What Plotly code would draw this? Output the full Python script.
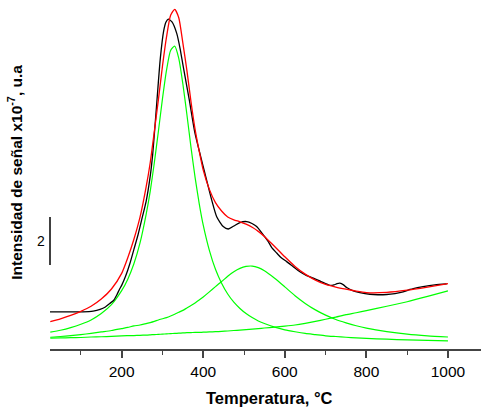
import plotly.graph_objects as go

# ---- data (y in units of 1e-7, arbitrary zero) ----
temp_exp = [24, 60, 105, 130, 147, 160, 171, 180, 188, 195, 200, 210, 220, 230, 240, 250, 260, 270, 276,
            283.6, 289, 294.7, 303, 308.7, 314.3, 323.4, 335, 343, 351, 365.8, 379.7, 400, 420.7, 433,
            449, 461.4, 475, 490, 506.5, 519.5, 531, 544, 559.5, 568.5, 580, 590.6, 604.5, 620, 637,
            653.6, 670, 688.6, 710.7, 720.5, 728, 735, 744, 751.6, 767.8, 784, 808.8, 828, 849.7, 870,
            890, 907, 915, 939, 968, 997]
signal_exp = [1.55, 1.55, 1.55, 1.58, 1.65, 1.75, 1.90, 2.02, 2.25, 2.50, 2.65, 3.05, 3.55, 4.15, 4.75,
              5.45, 6.15, 7.2, 8.1, 9.7, 10.9, 12.1, 13.25, 13.62, 13.74, 13.625, 13.15, 12.54, 11.76,
              10.375, 8.99, 7.60, 6.21, 5.51, 5.10, 5.00, 5.125, 5.27, 5.31, 5.23, 5.10, 4.83, 4.47,
              4.21, 4.00, 3.81, 3.64, 3.44, 3.22, 3.06, 2.95, 2.81, 2.65, 2.67, 2.72, 2.74, 2.67, 2.56,
              2.42, 2.35, 2.28, 2.26, 2.27, 2.31, 2.375, 2.48, 2.52, 2.60, 2.67, 2.71]

temp_fit = [25, 50, 75, 100, 125, 150, 175, 200, 215, 230, 245, 260, 270, 280, 290, 300, 310, 320, 330,
            340, 350, 360, 370, 380, 390, 400, 415, 430, 445, 460, 475, 490, 505, 520, 535, 550, 575,
            600, 625, 650, 675, 700, 725, 750, 775, 800, 850, 900, 950, 1000]
signal_fit = [1.14, 1.26, 1.40, 1.57, 1.78, 2.08, 2.50, 3.15, 3.80, 4.57, 5.49, 6.75, 7.76, 9.05, 10.38,
              11.78, 13.0, 13.9, 14.15, 13.80, 12.75, 11.6, 10.3, 9.15, 8.25, 7.45, 6.65, 6.10, 5.75,
              5.50, 5.38, 5.30, 5.20, 5.07, 4.90, 4.69, 4.27, 3.84, 3.44, 3.12, 2.87, 2.69, 2.58, 2.49,
              2.41, 2.35, 2.36, 2.45, 2.58, 2.72]
peak1 = [0.70, 0.78, 0.89, 1.03, 1.21, 1.48, 1.85, 2.43, 2.91, 3.55, 4.42, 5.61, 6.57, 7.75, 9.06, 10.42,
         11.62, 12.44, 12.62, 12.11, 11.05, 9.76, 8.40, 7.15, 6.07, 5.16, 4.11, 3.32, 2.74, 2.29, 1.95,
         1.69, 1.48, 1.31, 1.17, 1.06, 0.91, 0.80, 0.72, 0.65, 0.60, 0.55, 0.52, 0.49, 0.46, 0.44, 0.41,
         0.38, 0.36, 0.34]
peak2 = [0.49, 0.52, 0.56, 0.60, 0.65, 0.71, 0.77, 0.85, 0.90, 0.96, 1.00, 1.06, 1.10, 1.15, 1.21, 1.26,
         1.31, 1.375, 1.45, 1.53, 1.61, 1.71, 1.81, 1.92, 2.04, 2.17, 2.38, 2.60, 2.81, 3.03, 3.22, 3.36,
         3.44, 3.455, 3.39, 3.26, 2.95, 2.59, 2.22, 1.90, 1.63, 1.41, 1.23, 1.09, 0.97, 0.87, 0.725, 0.62,
         0.55, 0.50]
peak3 = [0.45, 0.46, 0.47, 0.48, 0.50, 0.51, 0.53, 0.55, 0.555, 0.56, 0.57, 0.58, 0.59, 0.60, 0.61, 0.62,
         0.63, 0.64, 0.65, 0.66, 0.67, 0.68, 0.685, 0.69, 0.69, 0.70, 0.71, 0.72, 0.735, 0.75, 0.77, 0.79,
         0.81, 0.83, 0.85, 0.875, 0.91, 0.95, 1.00, 1.07, 1.15, 1.24, 1.33, 1.43, 1.51, 1.60, 1.78, 1.97,
         2.19, 2.42]

x_ticks = [200, 400, 600, 800, 1000]
scale_bar = [3.5, 5.5]  # a bar of 2 units
scale_label = "2"

fig = go.Figure()
for ys in (peak1, peak2, peak3):
    fig.add_trace(go.Scatter(x=temp_fit, y=ys, mode="lines",
                             line=dict(color="#00ff00", width=1.2, shape="spline", smoothing=0.6),
                             hoverinfo="skip"))
fig.add_trace(go.Scatter(x=temp_exp, y=signal_exp, mode="lines",
                         line=dict(color="#000000", width=1.3, shape="spline", smoothing=0.6)))
fig.add_trace(go.Scatter(x=temp_fit, y=signal_fit, mode="lines",
                         line=dict(color="#ff0000", width=1.3, shape="spline", smoothing=0.6)))

fig.update_layout(
    width=481, height=407, margin=dict(l=50, r=0, t=0, b=58),
    paper_bgcolor="white", plot_bgcolor="white", showlegend=False,
    font=dict(family="Liberation Sans, Arial, sans-serif", color="#000"),
    xaxis=dict(range=[24.3, 1081], tickvals=x_ticks, ticks="outside", ticklen=7, tickwidth=1.5,
               tickcolor="#444", showline=True, linecolor="#444", linewidth=2, showgrid=False,
               zeroline=False, tickfont=dict(size=15.5),
               minor=dict(ticks="outside", dtick=100, tick0=0, ticklen=4, tickwidth=1.2, tickcolor="#444")),
    yaxis=dict(range=[0, 14.54], visible=False),
)
fig.add_shape(type="line", xref="paper", yref="y", x0=0, x1=0, y0=scale_bar[0], y1=scale_bar[1],
              line=dict(color="#000", width=1.5))
fig.add_annotation(xref="paper", yref="y", x=0, y=sum(scale_bar) / 2, text=scale_label, showarrow=False,
                   xanchor="right", xshift=-3, font=dict(size=14))
fig.add_annotation(xref="paper", yref="paper", x=0.508, y=-49 / 349, showarrow=False,
                   xanchor="center", yanchor="middle",
                   text="<b>Temperatura, °C</b>", font=dict(size=16.5))
fig.add_annotation(xref="paper", yref="paper", x=-35 / 431, y=0.505, textangle=-90, showarrow=False,
                   xanchor="center", yanchor="middle",
                   text="<b>Intensidad de señal x10<sup>-7</sup>, u.a</b>", font=dict(size=15.5))

fig.write_html("out.html")
